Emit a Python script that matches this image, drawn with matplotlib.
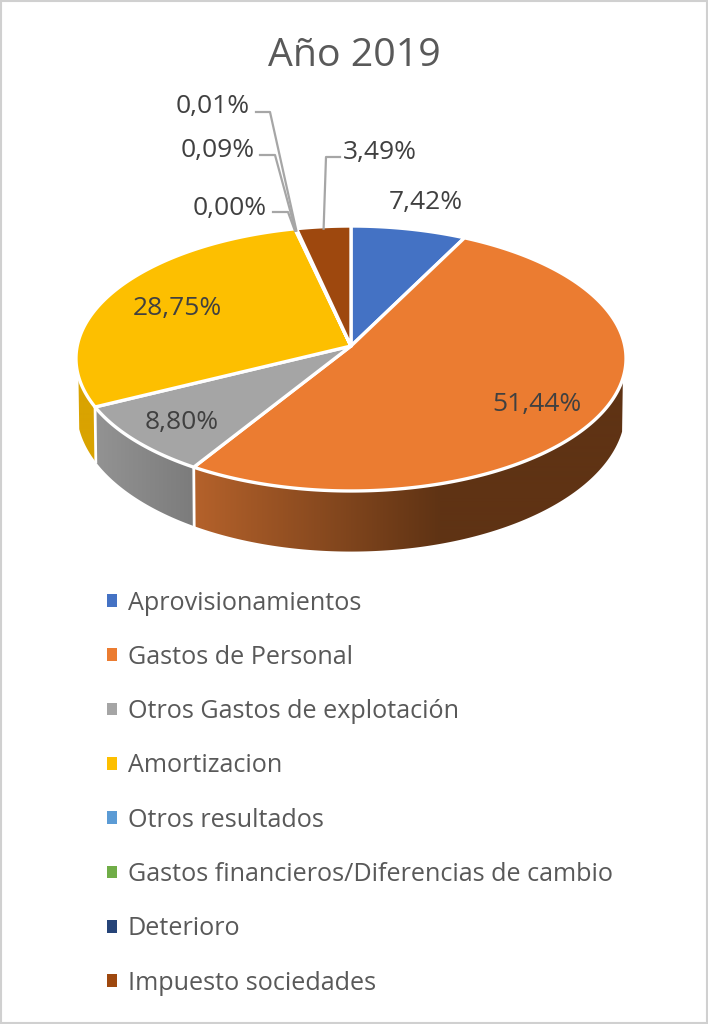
import matplotlib
matplotlib.use("Agg")
import matplotlib.pyplot as plt
from matplotlib.colors import to_rgb
from matplotlib.patches import Patch, Polygon, Rectangle
import numpy as np

plt.rcParams['font.family'] = ['Open Sans', 'DejaVu Sans']

title = "Año 2019"
categories = ["Aprovisionamientos", "Gastos de Personal", "Otros Gastos de explotación",
              "Amortizacion", "Otros resultados", "Gastos financieros/Diferencias de cambio",
              "Deterioro", "Impuesto sociedades"]
values = [7.42, 51.44, 8.80, 28.75, 0.00, 0.09, 0.01, 3.49]
colors = ["#4472C4", "#EB7C31", "#A5A5A5", "#FDBF00", "#5B9BD5", "#70AD47", "#264478", "#9E480E"]

# wall shading: colour at left x, colour at right x
wall_shade = {1: ("#B5622B", "#5F3314", 193, 440),
              2: ("#939393", "#7C7C7C", 95, 192),
              3: ("#D9A300", "#D9A300", 76, 95)}

# label centres in pixels
label_pos = [(426, 203), (537, 405), (182, 422), (177, 309), (230, 209), (218, 150), (213, 106), (380, 152)]
# elbows of the leader lines, outer end then bend
leaders = {4: [(273, 212), (288, 212)], 5: [(260, 155), (275, 155)],
           6: [(256, 112), (270, 112)], 7: [(340, 157), (326, 157)]}

W, H = 708, 1024
CX, CY = 351, 346
A, B, K = 273.8, 131.3, 0.0943      # top face of the pie in perspective
A2, B2, CY2 = 273, 140, 397         # bottom rim


def top(theta):
    u, v = np.sin(theta), np.cos(theta)
    d = 1 + K * v
    return CX + A * u / d, CY - B * v / d


def bottom(theta):
    u, v = np.sin(theta), np.cos(theta)
    d = 1 + K * v
    return CX + A2 * u / d, CY2 - B2 * v / d


fig = plt.figure(figsize=(W / 100, H / 100), dpi=100)
ax = fig.add_axes([0, 0, 1, 1])

edges = np.cumsum([0] + values) / 100 * 2 * np.pi
wall_from, wall_to = np.radians(104), np.radians(257)

# side wall, a horizontal gradient clipped to each section
for i, (c_left, c_right, x_left, x_right) in wall_shade.items():
    a0, a1 = max(edges[i], wall_from), min(edges[i + 1], wall_to)
    th = np.linspace(a0, a1, 200)
    x_t, y_t = top(th)
    x_b, y_b = bottom(th)
    poly = Polygon(np.c_[np.r_[x_t, x_b[::-1]], np.r_[y_t, y_b[::-1]]], closed=True,
                   facecolor="none", edgecolor="none", transform=ax.transData)
    ax.add_patch(poly)
    t = np.clip((np.arange(W) - x_left) / (x_right - x_left), 0, 1)[None, :, None]
    grad = np.array(to_rgb(c_left))[None, None, :] * (1 - t) + np.array(to_rgb(c_right))[None, None, :] * t
    im = ax.imshow(grad, extent=(0, W, 600, 200), aspect="auto", zorder=1, interpolation="bilinear")
    im.set_clip_path(poly)

ax.set_xlim(0, W)
ax.set_ylim(H, 0)
ax.axis("off")

# white lines between the wall sections
for a in edges[1:4]:
    if wall_from < a < wall_to:
        x0, y0 = top(a)
        x1, y1 = bottom(a)
        ax.plot([x0, x1], [y0, y1], color="white", lw=2, zorder=2)

# top face
for i, col in enumerate(colors):
    if values[i] <= 0:
        continue
    th = np.linspace(edges[i], edges[i + 1], max(int((edges[i + 1] - edges[i]) * 100), 2))
    x, y = top(th)
    ax.fill(np.r_[CX, x], np.r_[CY, y], facecolor=col, edgecolor="white", lw=2.4,
            joinstyle="round", zorder=3)

# labels
for i, v in enumerate(values):
    s = f"{v:.2f}%".replace(".", ",")
    ax.text(label_pos[i][0], label_pos[i][1], s, ha="center", va="center",
            fontsize=19, color="#404040", zorder=5)

# leader lines
for i, pts in leaders.items():
    mid = (edges[i] + edges[i + 1]) / 2
    xe, ye = top(mid)
    xs = [pts[0][0], pts[1][0], xe]
    ys = [pts[0][1], pts[1][1], ye + 2]
    ax.plot(xs, ys, color="#A6A6A6", lw=1.6, zorder=4)

ax.text(354, 56, title, ha="center", va="center", fontsize=28.3, color="#595959")

handles = [Patch(facecolor=c, edgecolor="none") for c in colors]
ax.legend(handles, categories, loc="upper left", bbox_to_anchor=(107 / W, 1 - 590.5 / H),
          frameon=False, fontsize=18.1, labelcolor="#595959", handlelength=0.4,
          handleheight=0.4, handletextpad=0.42, labelspacing=1.165, borderpad=0, borderaxespad=0)

ax.add_patch(Rectangle((1, 1), W - 2, H - 2, fill=False, edgecolor="#D0D0D0", lw=1.5, zorder=6))

fig.savefig("out.png", dpi=100)
